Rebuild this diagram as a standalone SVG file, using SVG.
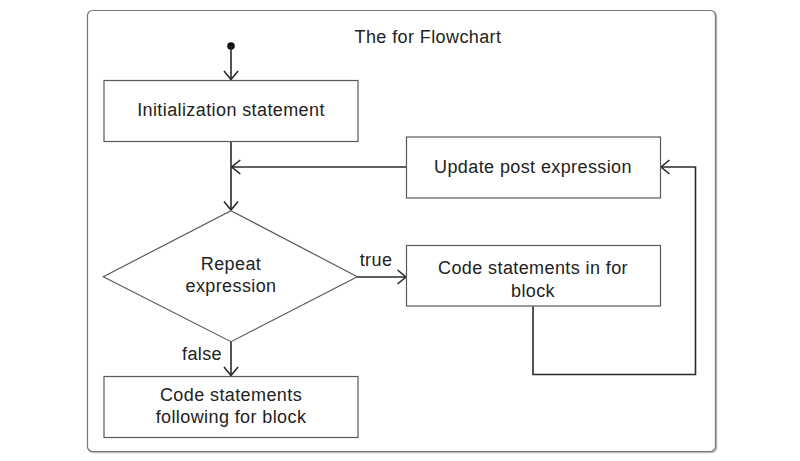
<svg xmlns="http://www.w3.org/2000/svg" width="800" height="461" viewBox="0 0 800 461">
<defs>
<style>
.box{fill:#fff;stroke:#5a5a5a;stroke-width:1.2}
.t{font-family:"Liberation Sans",Arial,sans-serif;font-size:18px;letter-spacing:0.4px;fill:#222;text-anchor:middle}
.c{fill:none;stroke:#2a2a2a;stroke-width:1.6}
</style>
<marker id="ah" viewBox="0 0 10 16" refX="9.5" refY="8" markerWidth="10" markerHeight="16" markerUnits="userSpaceOnUse" orient="auto">
<path d="M1,1 L9.5,8 L1,15" fill="none" stroke="#2a2a2a" stroke-width="1.6"/>
</marker>
</defs>
<rect width="800" height="461" fill="#fff"/>
<rect x="88.5" y="11.5" width="628" height="441" rx="5" fill="none" stroke="#bbb" stroke-width="1.5"/>
<rect x="87.5" y="10.5" width="628" height="441" rx="5" fill="#fff" stroke="#777" stroke-width="1.2"/>
<text class="t" x="428" y="43">The for Flowchart</text>
<g id="connectors">
<circle cx="231" cy="46" r="3.8" fill="#111"/>
<path class="c" d="M231,46 V79.5" marker-end="url(#ah)"/>
<path class="c" d="M231,141 V210" marker-end="url(#ah)"/>
<path class="c" d="M406,167 H231.8" marker-end="url(#ah)"/>
<path class="c" d="M357,277 H406" marker-end="url(#ah)"/>
<text class="t" x="376" y="266">true</text>
<path class="c" d="M231,342 V375.5" marker-end="url(#ah)"/>
<text class="t" x="202" y="360">false</text>
<path class="c" d="M533,306 V374.5 H695.5 V167 H661" marker-end="url(#ah)"/>
</g>
<g id="init">
<rect class="box" x="104" y="80.5" width="254" height="61"/>
<text class="t" x="231" y="116">Initialization statement</text>
</g>
<g id="update">
<rect class="box" x="406.5" y="137" width="254" height="61"/>
<text class="t" x="533" y="173">Update post expression</text>
</g>
<g id="repeat">
<path class="box" d="M231,210.7 L357.3,276.7 L231,341.7 L103.3,276.7 Z"/>
<text class="t" x="231" y="270">Repeat</text>
<text class="t" x="231" y="292">expression</text>
</g>
<g id="body">
<rect class="box" x="406.5" y="245.5" width="254" height="60.5"/>
<text class="t" x="533" y="274">Code statements in for</text>
<text class="t" x="533" y="297">block</text>
</g>
<g id="after">
<rect class="box" x="104" y="376.5" width="254" height="61"/>
<text class="t" x="231" y="401">Code statements</text>
<text class="t" x="231" y="423">following for block</text>
</g>
</svg>
